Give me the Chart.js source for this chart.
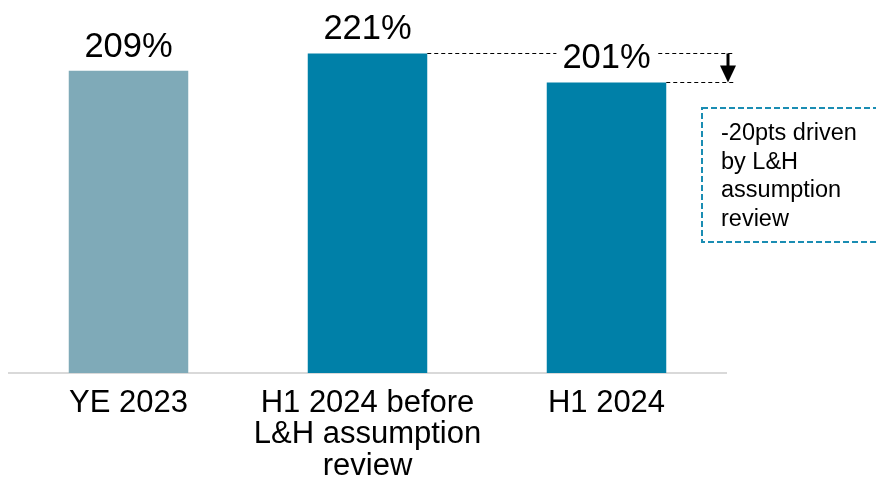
<!DOCTYPE html>
<html>
<head>
<meta charset="utf-8">
<script src="https://cdn.jsdelivr.net/npm/chart.js@4"></script>
<style>
  html, body { margin: 0; padding: 0; background: #fff; }
  #wrap { width: 876px; height: 480px; }
</style>
</head>
<body>
<div id="wrap"><canvas id="ratioChart" width="876" height="480"></canvas></div>
<script>
const categories = ['YE 2023', ['H1 2024 before', 'L&H assumption', 'review'], 'H1 2024'];
const ratios = [209, 221, 201];
const barColors = ['#7faab8', '#0080a8', '#0080a8'];
const noteLines = ['-20pts driven', 'by L&H', 'assumption', 'review'];

const FONT = '"Liberation Sans", Arial, sans-serif';

// dashed guides + arrow + note box, then value labels on top
const annotations = {
    id: 'annotations',
    afterDatasetsDraw(chart) {
        const ctx = chart.ctx;
        const bars = chart.getDatasetMeta(0).data;
        const area = chart.chartArea;
        const before = bars[1];
        const after = bars[2];
        const endX = area.right + 8;
        const arrowX = area.right + 2;

        ctx.save();
        ctx.strokeStyle = '#000';
        ctx.lineWidth = 1;
        ctx.setLineDash([4, 3]);
        ctx.beginPath();
        ctx.moveTo(before.x + before.width / 2, Math.round(before.y) + 0.5);
        ctx.lineTo(endX, Math.round(before.y) + 0.5);
        ctx.moveTo(after.x + after.width / 2, Math.round(after.y) + 0.5);
        ctx.lineTo(endX, Math.round(after.y) + 0.5);
        ctx.stroke();

        // arrow
        ctx.setLineDash([]);
        ctx.lineWidth = 3;
        ctx.beginPath();
        ctx.moveTo(arrowX, before.y);
        ctx.lineTo(arrowX, after.y - 12);
        ctx.stroke();
        ctx.fillStyle = '#000';
        ctx.beginPath();
        ctx.moveTo(arrowX - 8, after.y - 17);
        ctx.lineTo(arrowX + 8, after.y - 17);
        ctx.lineTo(arrowX, after.y);
        ctx.closePath();
        ctx.fill();

        // note box
        const bx = area.right - 24, by = 108, bw = 200, bh = 134;
        ctx.strokeStyle = '#1a8db3';
        ctx.lineWidth = 2;
        ctx.setLineDash([6, 3]);
        ctx.strokeRect(bx, by, bw, bh);
        ctx.setLineDash([]);
        ctx.fillStyle = '#000';
        ctx.font = '23.5px ' + FONT;
        ctx.textAlign = 'left';
        ctx.textBaseline = 'middle';
        noteLines.forEach((t, i) => ctx.fillText(t, bx + 19, by + 26 + i * 28.5));

        // value labels
        ctx.font = '34.5px ' + FONT;
        ctx.textAlign = 'center';
        ctx.textBaseline = 'alphabetic';
        bars.forEach((bar, i) => {
            const txt = ratios[i] + '%';
            const w = ctx.measureText(txt).width;
            ctx.fillStyle = '#fff';
            ctx.fillRect(bar.x - w / 2 - 6, bar.y - 42, w + 12, 34);
            ctx.fillStyle = '#000';
            ctx.fillText(txt, bar.x, bar.y - 14);
        });
        ctx.restore();
    }
};

new Chart(document.getElementById('ratioChart').getContext('2d'), {
    type: 'bar',
    data: {
        labels: categories,
        datasets: [{
            data: ratios,
            backgroundColor: barColors,
            borderWidth: 0,
            categoryPercentage: 1,
            barPercentage: 0.5
        }]
    },
    options: {
        responsive: false,
        animation: false,
        layout: { padding: { left: 9, right: 150, top: 0, bottom: 0 } },
        plugins: { legend: { display: false }, tooltip: { enabled: false } },
        scales: {
            x: {
                grid: { display: false, drawTicks: false },
                border: { display: true, color: '#d9d9d9', width: 2 },
                ticks: {
                    color: '#000',
                    padding: 14,
                    maxRotation: 0,
                    autoSkip: false,
                    font: { family: FONT, size: 31, lineHeight: 1.03 }
                },
                afterFit(scale) { scale.height = 107; }
            },
            y: {
                display: false,
                min: 0,
                max: 258
            }
        }
    },
    plugins: [annotations]
});
</script>
</body>
</html>
